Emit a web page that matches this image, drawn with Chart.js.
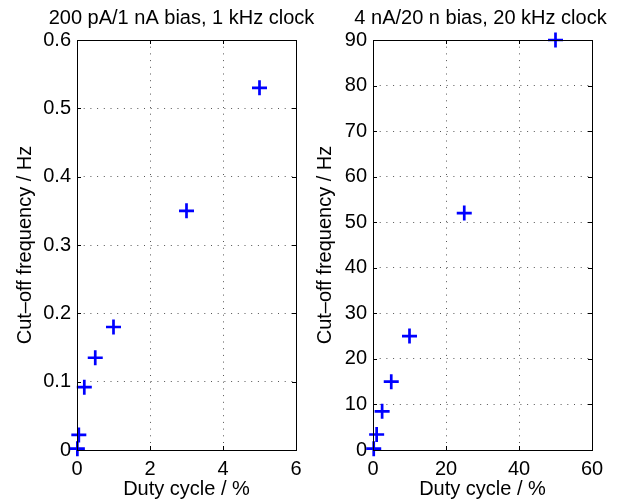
<!DOCTYPE html>
<html>
<head>
<meta charset="utf-8">
<script src="https://cdn.jsdelivr.net/npm/chart.js@4/dist/chart.umd.min.js"></script>
<style>
  html, body { margin: 0; padding: 0; background: #fff; }
  #wrap { position: relative; width: 626px; height: 504px; }
  #wrap canvas { position: absolute; left: 0; top: 0; }
</style>
</head>
<body>
<div id="wrap">
  <canvas id="left" width="626" height="504"></canvas>
  <canvas id="right" width="626" height="504"></canvas>
</div>
<script>
// left panel: 200 pA / 1 nA bias, 1 kHz clock
const leftTitle = "200 pA/1 nA bias, 1 kHz clock";
const leftDuty = [0.01, 0.05, 0.2, 0.5, 1, 3, 5];
const leftCutoff = [0.002, 0.022, 0.092, 0.135, 0.18, 0.35, 0.53];

// right panel: 4 nA / 20 n bias, 20 kHz clock
const rightTitle = "4 nA/20 n bias, 20 kHz clock";
const rightDuty = [0.2, 1, 2.5, 5, 10, 25, 50];
const rightCutoff = [0.3, 3.4, 8.5, 15, 25, 52, 90];

const xLabel = "Duty cycle / %";
const yLabel = "Cut\u2013off frequency / Hz";

const FONT = "'Liberation Sans', Arial, Helvetica, sans-serif";
Chart.defaults.font.family = FONT;
Chart.defaults.font.size = 20;
Chart.defaults.color = "#000";

// frame, inward tick marks and title over the plot area
const framePlugin = {
  id: "frame",
  afterDatasetsDraw(chart, args, opts) {
    const { ctx, chartArea: a, scales } = chart;
    ctx.save();
    ctx.strokeStyle = "#000";
    ctx.lineWidth = 1;
    ctx.strokeRect(Math.round(a.left) + 0.5, Math.round(a.top) + 0.5,
                   Math.round(a.right - a.left), Math.round(a.bottom - a.top));
    ctx.beginPath();
    scales.x.ticks.forEach((t, i) => {
      const x = Math.round(scales.x.getPixelForTick(i)) + 0.5;
      ctx.moveTo(x, a.bottom); ctx.lineTo(x, a.bottom - 4);
      ctx.moveTo(x, a.top); ctx.lineTo(x, a.top + 4);
    });
    scales.y.ticks.forEach((t, i) => {
      const y = Math.round(scales.y.getPixelForTick(i)) + 0.5;
      ctx.moveTo(a.left, y); ctx.lineTo(a.left + 4, y);
      ctx.moveTo(a.right, y); ctx.lineTo(a.right - 4, y);
    });
    ctx.stroke();
    ctx.restore();
  },
  afterDraw(chart, args, opts) {
    const { ctx, chartArea: a } = chart;
    ctx.save();
    ctx.fillStyle = "#000";
    ctx.font = "20px " + FONT;
    ctx.textAlign = "center";
    ctx.textBaseline = "middle";
    ctx.fillText(opts.text, (a.left + a.right) / 2 + (opts.shift || 0), 18);
    ctx.restore();
  }
};

function makePanel(id, title, titleShift, xs, ys, xMax, xStep, yMax, yStep, padLeft, yWidth, padRight) {
  const pts = xs.map((x, i) => ({ x: x, y: ys[i] }));
  return new Chart(document.getElementById(id), {
    type: "scatter",
    data: {
      datasets: [{
        data: pts,
        pointStyle: "cross",
        pointRadius: 7.5,
        pointHoverRadius: 7.5,
        pointBorderWidth: 2.7,
        borderColor: "#0000ff",
        backgroundColor: "#0000ff",
        clip: false
      }]
    },
    options: {
      responsive: false,
      animation: false,
      events: [],
      layout: { padding: { left: padLeft, right: padRight, top: 40, bottom: 0 } },
      plugins: {
        legend: { display: false },
        tooltip: { enabled: false },
        frame: { text: title, shift: titleShift }
      },
      scales: {
        x: {
          type: "linear",
          min: 0, max: xMax,
          ticks: { stepSize: xStep, padding: 7, maxRotation: 0 },
          grid: { color: "#555", drawTicks: false },
          border: { display: false, dash: [1, 5.7] },
          title: { display: true, text: xLabel, padding: { top: 0, bottom: 3 } },
          afterFit(s) { s.height = 54; }
        },
        y: {
          type: "linear",
          min: 0, max: yMax,
          ticks: { stepSize: yStep, padding: 6 },
          grid: { color: "#555", drawTicks: false },
          border: { display: false, dash: [1, 5.7] },
          title: { display: true, text: yLabel, padding: { top: 13, bottom: 0 } },
          afterFit(s) { s.width = yWidth; }
        }
      }
    },
    plugins: [framePlugin]
  });
}

makePanel("left", leftTitle, -5, leftDuty, leftCutoff, 6, 2, 0.6, 0.1, 0, 77, 330);
makePanel("right", rightTitle, -2, rightDuty, rightCutoff, 60, 20, 90, 10, 300, 73, 34);
</script>
</body>
</html>
